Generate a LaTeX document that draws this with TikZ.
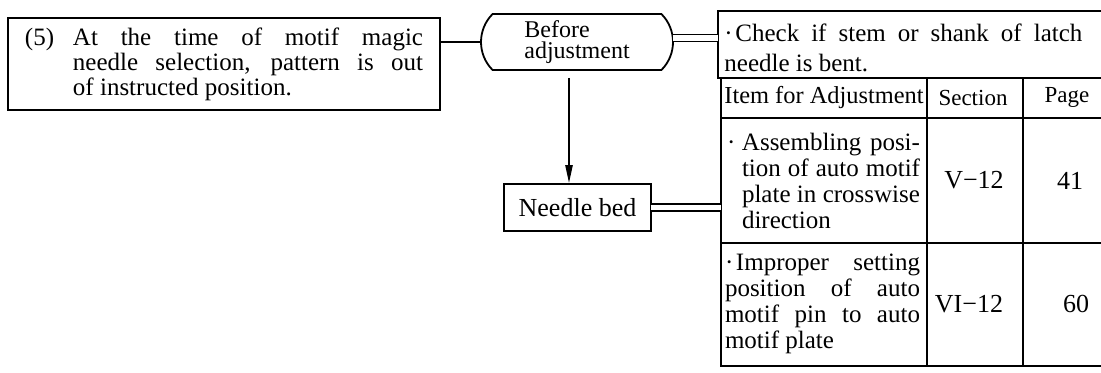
\documentclass[tikz,border=0pt]{standalone}
\usepackage{fontspec}
\setmainfont{Liberation Serif}
\usetikzlibrary{shapes.misc,arrows.meta,calc}
\begin{document}
\begin{tikzpicture}[x=0.5pt,y=-0.5pt,
  every node/.style={font=\fontsize{12.5pt}{13pt}\selectfont},
  frame/.style={draw, line width=0.9pt, rectangle, inner sep=0pt},
  conn/.style={line width=0.9pt},
  dbl/.style={double, double distance=2.6pt, line width=0.9pt},
  arr/.style={line width=0.9pt, -{Triangle[length=9pt,width=3.6pt]}},
  celltext/.style={inner sep=0pt, font=\fontsize{12.5pt}{13pt}\selectfont},
  cellc/.style={inner sep=0pt}
]
\useasboundingbox (0,0) rectangle (1101,372);

% problem box
\node[frame, minimum width=216pt, minimum height=46pt,
      font=\fontsize{12.5pt}{12.5pt}\selectfont] (problem) at (224,64)
  {\makebox[24pt][l]{(5)}\parbox[t]{175pt}{At the time of motif magic\linebreak needle selection, pattern is out\linebreak of instructed position.}};

% before adjustment
\node[draw, line width=0.9pt, rounded rectangle, rounded rectangle arc length=90,
      minimum width=96pt, minimum height=28pt, inner sep=0pt, align=left,
      font=\fontsize{12pt}{10.5pt}\selectfont] (before) at (577,42)
  {Before\\adjustment};

% check box
\node[frame, anchor=north west, minimum width=195pt, minimum height=33.5pt] (check) at (717,10) {};
\node[anchor=west, text width=179pt, align=justify, inner sep=0pt,
      font=\fontsize{12.5pt}{15pt}\selectfont] (checktext) at (724,48)
  {\noindent\makebox[5.5pt][l]{·}Check if stem or shank of latch\linebreak needle is bent.};

% table
\node[frame, anchor=north west, minimum width=196pt, minimum height=144pt] (table) at (720,77) {};
\draw[conn] (720,118) -- (1112,118);
\draw[conn] (720,243) -- (1112,243);
\draw[conn] (927,77) -- (927,365);
\draw[conn] (1023,77) -- (1023,365);

\node[cellc, font=\fontsize{12.2pt}{13pt}\selectfont] (h1) at (824,97.5) {Item for Adjustment};
\node[cellc, font=\fontsize{11.5pt}{13pt}\selectfont] (h2) at (973,97.5) {Section};
\node[cellc, font=\fontsize{11.5pt}{13pt}\selectfont] (h3) at (1067,97.5) {Page};

\node[celltext] (r1) at (823.5,180.5)
  {\makebox[7.5pt][l]{·}\parbox[t]{89pt}{Assembling posi-\linebreak tion of auto motif\linebreak plate in crosswise\linebreak direction}};
\node[cellc, font=\fontsize{13pt}{13pt}\selectfont] (r1s) at (974,180.5) {V−12};
\node[cellc, font=\fontsize{13pt}{13pt}\selectfont] (r1p) at (1070,180.5) {41};

\node[celltext, text width=97.5pt, align=justify] (r2) at (822.5,304)
  {\noindent\makebox[5.5pt][l]{·}Improper setting\linebreak position of auto\linebreak motif pin to auto\linebreak motif plate};
\node[cellc, font=\fontsize{13pt}{13pt}\selectfont] (r2s) at (969,304) {VI−12};
\node[cellc, font=\fontsize{13pt}{13pt}\selectfont] (r2p) at (1076,304) {60};

% needle bed
\node[frame, minimum width=73.5pt, minimum height=23.5pt,
      font=\fontsize{13pt}{13pt}\selectfont] (needle) at (577.5,207.5) {Needle bed};

% connectors
\draw[conn] ([yshift=11pt]problem.east) -- ([yshift=11pt]problem.east -| before.west);
\coordinate (d1) at ([yshift=2pt]before.east);
\draw[dbl] ($(d1)+(-0.6pt,0)$) -- ($(d1 -| check.west)+(0.6pt,0)$);
\draw[dbl] ($(needle.east)+(-0.6pt,0)$) -- ($(needle.east -| table.west)+(0.6pt,0)$);
\coordinate (astart) at ($(before.south)+(-4pt,-3.5pt)$);
\draw[arr] (astart) -- (astart |- needle.north);
\end{tikzpicture}
\end{document}
